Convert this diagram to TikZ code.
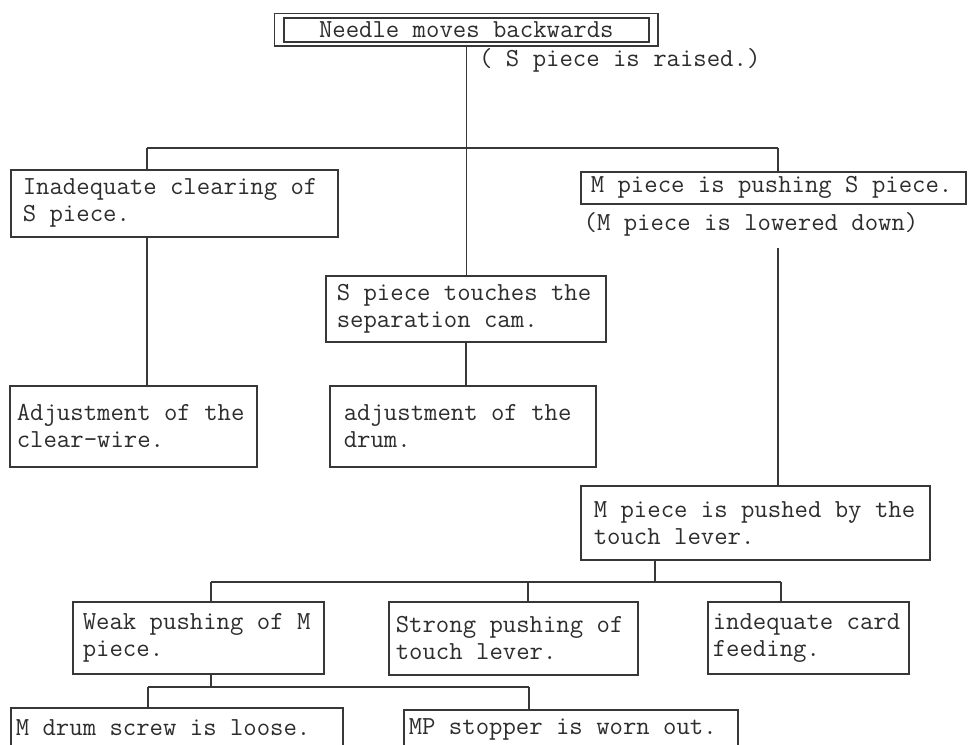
\documentclass[tikz,border=0pt]{standalone}
\usepackage{fontspec}
\usepackage{xcolor}
\usepackage{tikz}
\usetikzlibrary{fit}
\definecolor{ScanInk}{RGB}{45, 45, 45}
\definecolor{ScanLine}{RGB}{55, 55, 55}

\tikzset{
  fault/.style={draw=ScanLine, line width=1.6pt, anchor=north west, inner ysep=0pt,
                align=left, text=ScanInk, font=\fontsize{26}{27}\selectfont\ttfamily,
                execute at begin node={\spaceskip=0pt\xspaceskip=0pt}},
  remark/.style={inner sep=0pt, text=ScanInk, font=\fontsize{26}{27}\selectfont\ttfamily},
  link/.style={draw=ScanLine, line width=1.6pt}
}

\begin{document}
\begin{tikzpicture}[x=1pt, y=-1pt]
    \useasboundingbox (0,0) rectangle (968,744);
    \clip (0,0) rectangle (968,744);
    \fill[white] (0,0) rectangle (968,744);

    % top cause
    \node[fault, inner xsep=0pt, minimum width=365pt, minimum height=24pt, align=center] (needle) at (283,17) {Needle moves backwards};
    \node[draw=ScanLine, line width=1.6pt, fit=(needle), inner xsep=8.5pt, inner ysep=3.5pt] (needleframe) {};
    \node[remark, anchor=west] (raised) at (479,60) {( S piece is raised.)};

    \node[fault, inner xsep=12pt, text width=303pt, minimum height=67pt] (clear) at (10,169) {Inadequate clearing of\\S piece.};
    \node[fault, inner xsep=10pt, text width=365pt, minimum height=32pt] (pushS) at (580,171) {M piece is pushing S piece.};
    \node[remark] (lowered) at (751,224) {(M piece is lowered down)};
    \node[fault, inner xsep=11pt, text width=258pt, minimum height=66pt] (touch) at (325,275) {S piece touches the\\separation cam.};

    \node[fault, inner xsep=7pt, text width=233pt, minimum height=81pt] (adjclear) at (9,385) {Adjustment of the\\clear-wire.};
    \node[fault, inner xsep=14pt, text width=238pt, minimum height=81pt] (adjdrum) at (329,385) {adjustment of the\\drum.};

    \node[fault, inner xsep=13pt, text width=323pt, minimum height=74pt] (pushed) at (580,485) {M piece is pushed by the\\touch lever.};

    \node[fault, inner xsep=10pt, text width=231pt, minimum height=72pt] (weak) at (72,601) {Weak pushing of M\\piece.};
    \node[fault, inner xsep=7pt, text width=235pt, minimum height=73pt] (strong) at (388,601) {Strong pushing of\\touch lever.};
    \node[fault, inner xsep=5pt, text width=191pt, minimum height=72pt] (card) at (707,601) {indequate card\\feeding.};

    \node[fault, inner xsep=5pt, text width=322pt, minimum height=40pt] (loose) at (10,707) {M drum screw is loose.};
    \node[fault, inner xsep=5pt, text width=324pt, minimum height=40pt] (worn) at (403,709) {MP stopper is worn out.};

    % branch points
    \coordinate (lbranch) at (147,148);
    \coordinate (rbranch) at (778,148);
    \coordinate (bsplit) at (655,582);
    \coordinate (bleft) at (211,582);
    \coordinate (bmid) at (528,582);
    \coordinate (bright) at (781,582);
    \coordinate (csplit) at (211,687);
    \coordinate (cleft) at (148,687);
    \coordinate (cright) at (529,687);

    \draw[link] (needleframe.south) -- (needleframe.south |- touch.north);
    \draw[link] (lbranch) -- (rbranch);
    \draw[link] (lbranch) -- (lbranch |- clear.north);
    \draw[link] (rbranch) -- (rbranch |- pushS.north);
    \draw[link] (clear.south -| lbranch) -- (lbranch |- adjclear.north);
    \draw[link] (touch.south) -- (touch.south |- adjdrum.north);
    \draw[link] ([yshift=-12pt]lowered.south -| rbranch) -- (rbranch |- pushed.north);

    \draw[link] (pushed.south -| bsplit) -- (bsplit);
    \draw[link] (bleft) -- (bright);
    \draw[link] (bleft) -- (bleft |- weak.north);
    \draw[link] (bmid) -- (bmid |- strong.north);
    \draw[link] (bright) -- (bright |- card.north);

    \draw[link] (weak.south -| csplit) -- (csplit);
    \draw[link] (cleft) -- (cright);
    \draw[link] (cleft) -- (cleft |- loose.north);
    \draw[link] (cright) -- (cright |- worn.north);
\end{tikzpicture}
\end{document}
